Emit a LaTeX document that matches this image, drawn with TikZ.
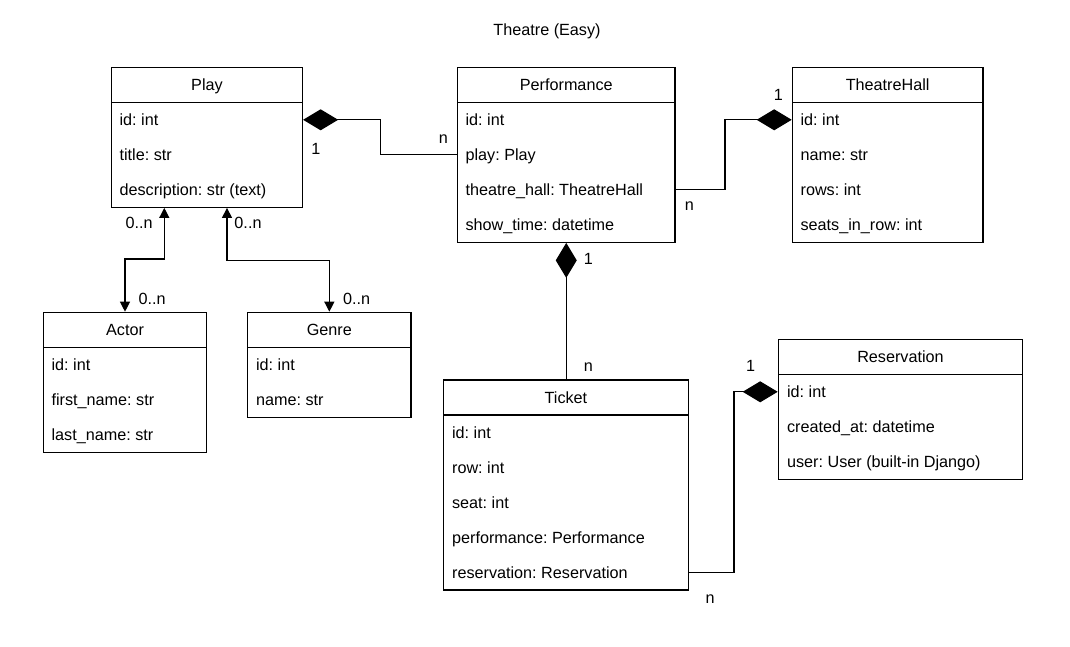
\documentclass[tikz,border=0pt]{standalone}
\usepackage{fontspec}
\setmainfont{Liberation Sans}
\usetikzlibrary{arrows.meta}

\begin{document}
\frenchspacing
\begin{tikzpicture}[x=1pt, y=-1pt, line width=1.2pt,
	every node/.style={font=\fontsize{16.2}{19.4}\selectfont},
	cls/.style={draw, inner sep=0pt},
	head/.style={draw, anchor=north, minimum height=35pt, inner sep=0pt, text height=12pt, text depth=0pt},
	field/.style={anchor=west, inner sep=0pt, text height=12pt, text depth=0pt},
	card/.style={inner sep=0pt, text height=12pt, text depth=0pt},
	comp/.style={{Diamond[length=35pt,width=21pt]}-},
	compr/.style={-{Diamond[length=35pt,width=21pt]}},
	assoc/.style={{Triangle[length=10pt,width=10pt]}-{Triangle[length=10pt,width=10pt]}}]
	\useasboundingbox (0,0) rectangle (1070,647);
	\node (title) at (547,31) {Theatre (Easy)};

	\node[cls, minimum width=191pt, minimum height=140pt] (play) at (207,137.3) {};
	\node[head, minimum width=191pt] (playh) at (play.north) {Play};
	\node[field] (play1) at (119,119.8) {id: int};
	\node[field] (play2) at (119,154.8) {title: str};
	\node[field] (play3) at (119,189.8) {description: str (text)};

	\node[cls, minimum width=217.5pt, minimum height=175pt] (perf) at (566.25,154.8) {};
	\node[head, minimum width=217.5pt] (perfh) at (perf.north) {Performance};
	\node[field] (perf1) at (465,119.8) {id: int};
	\node[field] (perf2) at (465,154.8) {play: Play};
	\node[field] (perf3) at (465,189.8) {theatre\_hall: TheatreHall};
	\node[field] (perf4) at (465,224.8) {show\_time: datetime};

	\node[cls, minimum width=190.7pt, minimum height=175pt] (hall) at (887.65,154.8) {};
	\node[head, minimum width=190.7pt] (hallh) at (hall.north) {TheatreHall};
	\node[field] (hall1) at (800,119.8) {id: int};
	\node[field] (hall2) at (800,154.8) {name: str};
	\node[field] (hall3) at (800,189.8) {rows: int};
	\node[field] (hall4) at (800,224.8) {seats\_in\_row: int};

	\node[cls, minimum width=163.4pt, minimum height=140pt] (actor) at (125,382.3) {};
	\node[head, minimum width=163.4pt] (actorh) at (actor.north) {Actor};
	\node[field] (actor1) at (51,364.8) {id: int};
	\node[field] (actor2) at (51,399.8) {first\_name: str};
	\node[field] (actor3) at (51,434.8) {last\_name: str};

	\node[cls, minimum width=163.3pt, minimum height=105pt] (genre) at (329.35,364.8) {};
	\node[head, minimum width=163.3pt] (genreh) at (genre.north) {Genre};
	\node[field] (genre1) at (255.5,364.8) {id: int};
	\node[field] (genre2) at (255.5,399.8) {name: str};

	\node[cls, minimum width=244.8pt, minimum height=210pt] (ticket) at (565.9,485) {};
	\node[head, minimum width=244.8pt] (ticketh) at (ticket.north) {Ticket};
	\node[field] (ticket1) at (451.5,432.5) {id: int};
	\node[field] (ticket2) at (451.5,467.5) {row: int};
	\node[field] (ticket3) at (451.5,502.5) {seat: int};
	\node[field] (ticket4) at (451.5,537.5) {performance: Performance};
	\node[field] (ticket5) at (451.5,572.5) {reservation: Reservation};

	\node[cls, minimum width=244.4pt, minimum height=140pt] (resv) at (900.5,409.3) {};
	\node[head, minimum width=244.4pt] (resvh) at (resv.north) {Reservation};
	\node[field] (resv1) at (786.5,391.8) {id: int};
	\node[field] (resv2) at (786.5,426.8) {created\_at: datetime};
	\node[field] (resv3) at (786.5,461.8) {user: User (built-in Django)};

	\draw[comp] (play.east |- play1) -- ++(77.5,0) |- (perf.west |- perf2);
	\draw[compr] (perf.east |- perf3) -- ++(49.3,0) |- (hall.west |- hall1);
	\draw[comp] (perf.south) -- (perf.south |- ticket.north);
	\draw[compr] (ticket.east |- ticket5) -- ++(45,0) |- (resv.west |- resv1);
	\draw[assoc] ([xshift=-42.7pt]play.south) -- ++(0,51) -| (actor.north);
	\draw[assoc] ([xshift=20pt]play.south) -- ++(0,52.7) -| (genre.north);

	\node[card] (m1) at (316,149) {1};
	\node[card] (m2) at (443.3,138) {n};
	\node[card] (m3) at (778.3,94.3) {1};
	\node[card] (m4) at (689.3,204) {n};
	\node[card] (m5) at (588.3,258.3) {1};
	\node[card] (m6) at (588.3,365.5) {n};
	\node[card] (m7) at (750.7,365) {1};
	\node[card] (m8) at (710,597) {n};
	\node[card] (m9) at (139.2,222.7) {0..n};
	\node[card] (m10) at (152.2,298.3) {0..n};
	\node[card] (m11) at (248,222.7) {0..n};
	\node[card] (m12) at (356.7,298.3) {0..n};
\end{tikzpicture}
\end{document}
